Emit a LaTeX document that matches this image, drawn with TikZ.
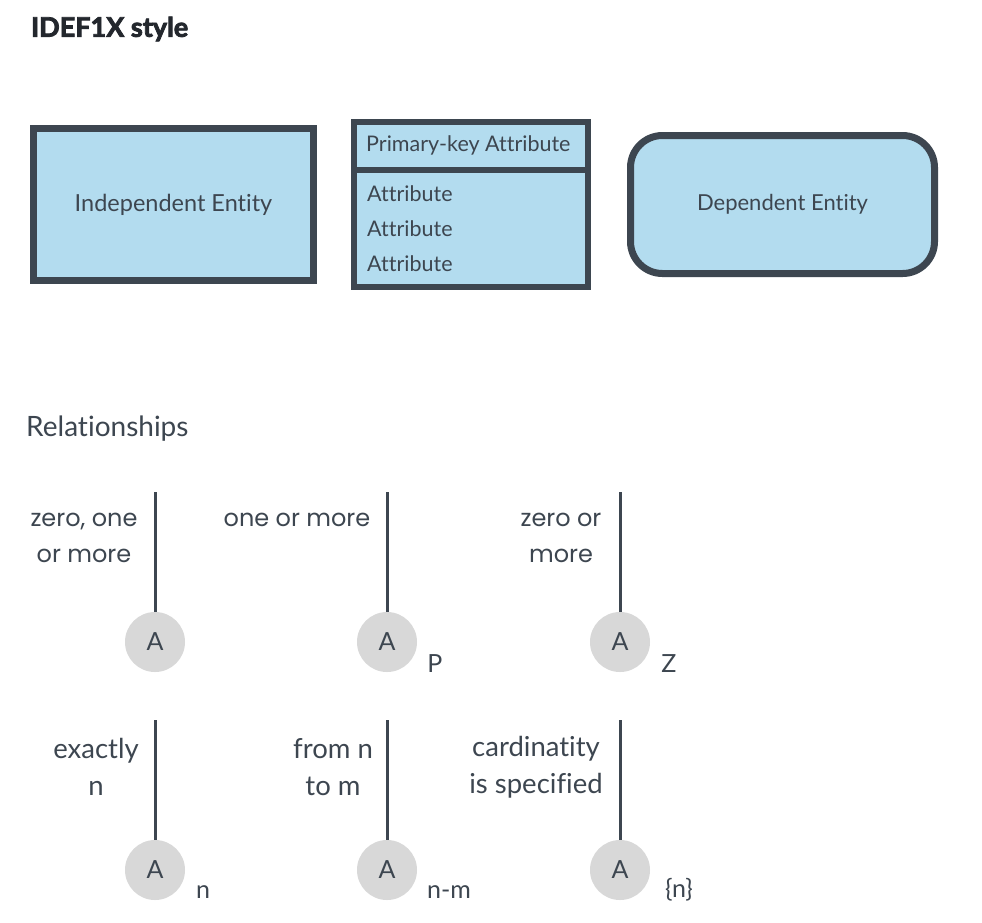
\documentclass[tikz,border=0pt]{standalone}
\usepackage{fontspec}
\setmainfont{Lato}[Ligatures=NoCommon, BoldFeatures={FakeBold=3}]
\newfontfamily\geofont{Poppins}
\definecolor{ink}{HTML}{3D4650}
\definecolor{titleink}{HTML}{23272D}
\definecolor{entfill}{HTML}{B3DCEF}
\definecolor{discfill}{HTML}{D8D8D8}
\begin{document}
\begin{tikzpicture}[x=1pt,y=-1pt,
  every node/.style={text=ink, inner sep=0pt},
  entity/.style={draw=ink, fill=entfill, line width=7pt},
  tablebox/.style={draw=ink, fill=entfill, line width=6pt, minimum width=234pt},
  disc/.style={circle, fill=discfill, minimum size=60pt, font=\fontsize{25}{28}\selectfont},
  relline/.style={draw=ink, line width=3pt},
  geolbl/.style={align=center, font=\geofont\fontsize{24}{36}\selectfont},
  avlbl/.style={align=center, font=\fontsize{27.5}{37}\selectfont},
  sublbl/.style={font=\fontsize{25}{28}\selectfont}
]
\useasboundingbox (0,0) rectangle (982,922);
\fill[white] (0,0) rectangle (982,922);

\node[anchor=west, text=titleink, font=\fontsize{27}{30}\selectfont\bfseries] (title) at (31,29) {IDEF1X style};

% entities
\node[entity, minimum width=280pt, minimum height=152pt, font=\fontsize{23.5}{26}\selectfont] (indep) at (173.5,204.5) {Independent Entity};

\node[tablebox, minimum height=48pt] (hdr) at (471,146) {};
\node[tablebox, minimum height=117pt] (body) at (471,228.5) {};
\node[anchor=west, font=\fontsize{21.5}{24}\selectfont] (pk) at (366,145) {Primary-key Attribute};
\node[anchor=west, align=left, font=\fontsize{21.5}{35}\selectfont] (attrs) at (367,229) {Attribute\\Attribute\\Attribute};

\node[entity, rounded corners=32pt, minimum width=304pt, minimum height=138pt, font=\fontsize{22}{26}\selectfont] (dep) at (782.5,204.5) {Dependent Entity};

\node[anchor=west, font=\fontsize{28}{30}\selectfont] (rel) at (26,429) {Relationships};

% top row
\node[disc] (a1) at (155,642) {A};
\node[disc] (a2) at (387,642) {A};
\node[disc] (a3) at (620,642) {A};
\coordinate (t1) at (155,492);
\coordinate (t2) at (387,492);
\coordinate (t3) at (620,492);
\draw[relline] (t1) -- (a1.north);
\draw[relline] (t2) -- (a2.north);
\draw[relline] (t3) -- (a3.north);
\node[geolbl] (l1) at (84,538) {zero, one\\or more};
\node[geolbl] (l2) at (297,520) {one or more};
\node[geolbl] (l3) at (561,538) {zero or\\more};
\node[sublbl] (p) at (435,664) {P};
\node[sublbl] (z) at (669,664) {Z};

% bottom row
\node[disc] (b1) at (155,870) {A};
\node[disc] (b2) at (387,870) {A};
\node[disc] (b3) at (620,870) {A};
\coordinate (u1) at (155,720);
\coordinate (u2) at (387,720);
\coordinate (u3) at (620,720);
\draw[relline] (u1) -- (b1.north);
\draw[relline] (u2) -- (b2.north);
\draw[relline] (u3) -- (b3.north);
\node[avlbl] (m1) at (96,767) {exactly\\n};
\node[avlbl] (m2) at (333,767) {from n\\to m};
\node[avlbl] (m3) at (536,767) {cardinatity\\is specified};
\node[sublbl] (n1) at (203,892) {n};
\node[sublbl] (n2) at (449,892) {n-m};
\node[sublbl] (n3) at (679,890) {\{n\}};
\end{tikzpicture}
\end{document}
